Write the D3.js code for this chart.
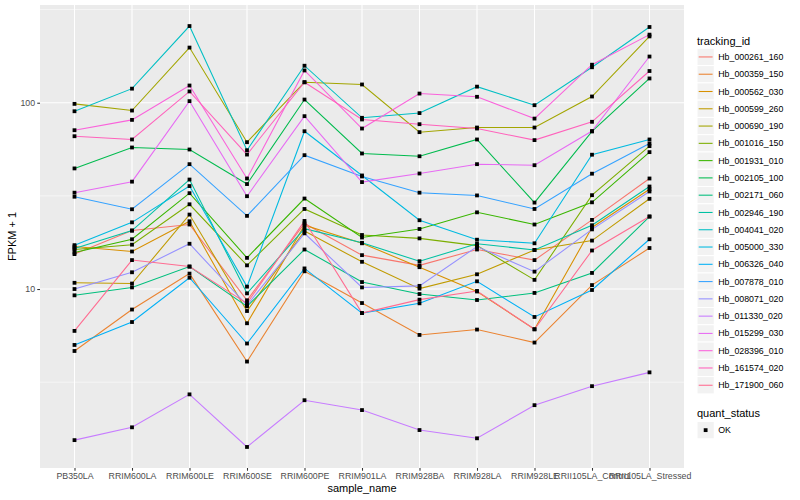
<!DOCTYPE html>
<html>
<head>
<meta charset="utf-8">
<script src="https://cdn.jsdelivr.net/npm/d3@7"></script>
<style>
  html, body { margin: 0; padding: 0; background: #ffffff; }
  text { font-family: "Liberation Sans", Arial, Helvetica, sans-serif; }
</style>
</head>
<body>
<svg id="chart" width="800" height="500"></svg>
<script>
// ---- data ----
const samples = ["PB350LA","RRIM600LA","RRIM600LE","RRIM600SE","RRIM600PE","RRIM901LA","RRIM928BA","RRIM928LA","RRIM928LE","RRII105LA_Control","RRII105LA_Stressed"];
const trackingIds = ["Hb_000261_160","Hb_000359_150","Hb_000562_030","Hb_000599_260","Hb_000690_190","Hb_001016_150","Hb_001931_010","Hb_002105_100","Hb_002171_060","Hb_002946_190","Hb_004041_020","Hb_005000_330","Hb_006326_040","Hb_007878_010","Hb_008071_020","Hb_011330_020","Hb_015299_030","Hb_028396_010","Hb_161574_020","Hb_171900_060"];
const seriesColors = ["#F8766D","#EA8331","#D89000","#C09B00","#A3A500","#7CAE00","#39B600","#00BB4E","#00BF7D","#00C1A3","#00BFC4","#00BAE0","#00B0F6","#35A2FF","#9590FF","#C77CFF","#E76BF3","#FA62DB","#FF62BC","#FF6C91"];
const quantStatus = ["OK"];
const yTicks = [10, 100];
const yMinor = [3.1623, 31.623, 316.23];

// FPKM + 1 per sample, one array per tracking_id
const hb_000261_160 = [15.4, 20.6, 22.2, 8.7, 22.5, 15.2, 13.4, 16.3, 14.3, 23.5, 39.2];
const hb_000359_150 = [4.65, 7.76, 12.1, 4.08, 12.45, 8.41, 5.67, 6.06, 5.16, 10.5, 16.6];
const hb_000562_030 = [16.9, 15.9, 23.1, 6.55, 22.0, 17.6, 13.1, 9.7, 6.08, 21.4, 34.3];
const hb_000599_260 = [10.8, 10.7, 25.1, 7.62, 20.5, 14.0, 10.05, 12.0, 16.2, 18.2, 30.5];
const hb_000690_190 = [98.6, 90.8, 197.7, 61.4, 128.8, 125.3, 69.5, 73.6, 73.6, 108, 227];
const hb_001016_150 = [16.3, 17.3, 28.5, 13.4, 26.9, 19.5, 18.7, 17.1, 11.2, 31.9, 58.5];
const hb_001931_010 = [15.7, 18.5, 32.7, 14.7, 30.6, 18.9, 21.0, 25.8, 22.2, 29.2, 54.3];
const hb_002105_100 = [44.4, 57.5, 56.1, 36.6, 104, 53.4, 51.6, 63.5, 29.1, 70.1, 135];
const hb_002171_060 = [9.25, 10.2, 13.2, 8.07, 16.3, 10.9, 9.4, 8.73, 9.53, 12.2, 24.5];
const hb_002946_190 = [16.5, 20.6, 38.7, 9.48, 21.1, 17.7, 14.1, 17.5, 16.2, 22.0, 35.5];
const hb_004041_020 = [90, 119, 258, 55.6, 158, 83, 88, 122, 97, 155, 255];
const hb_005000_330 = [17.2, 22.8, 35.7, 10.3, 70.3, 40.7, 23.4, 18.4, 17.6, 52.6, 63.5];
const hb_006326_040 = [5.01, 6.65, 11.5, 5.1, 12.9, 7.43, 8.38, 11.0, 7.08, 9.88, 18.5];
const hb_007878_010 = [31.3, 26.8, 46.8, 24.7, 52.3, 40.2, 32.9, 31.8, 26.9, 41.6, 60.4];
const hb_008071_020 = [10, 12.3, 17.5, 8.18, 19.9, 10.2, 10.4, 16.9, 12.4, 20.9, 33.4];
const hb_011330_020 = [1.545, 1.81, 2.72, 1.42, 2.53, 2.24, 1.75, 1.58, 2.38, 3.01, 3.57];
const hb_015299_030 = [32.9, 37.7, 102, 31.5, 84.7, 37.5, 41.7, 46.8, 46.2, 70.5, 177];
const hb_028396_010 = [71.2, 80.9, 123.7, 39.2, 149, 72.7, 112, 107.6, 82.2, 160, 232];
const hb_161574_020 = [66.1, 63.5, 115, 52.7, 128.8, 81.3, 76.7, 72.7, 63, 79, 148];
const hb_171900_060 = [5.96, 14.3, 13.2, 8.38, 23.2, 7.43, 8.77, 9.76, 6.08, 16.1, 24.5];

const seriesValues = [hb_000261_160, hb_000359_150, hb_000562_030, hb_000599_260, hb_000690_190, hb_001016_150, hb_001931_010, hb_002105_100, hb_002171_060, hb_002946_190, hb_004041_020, hb_005000_330, hb_006326_040, hb_007878_010, hb_008071_020, hb_011330_020, hb_015299_030, hb_028396_010, hb_161574_020, hb_171900_060];

// ---- layout ----
const svg = d3.select("#chart");
const P = {l: 40, t: 5, r: 684, b: 468};

svg.append("rect").attr("x",0).attr("y",0).attr("width",800).attr("height",500).attr("fill","#ffffff");

const x = d3.scalePoint().domain(samples).range([P.l, P.r]).padding(0.6);
const allVals = seriesValues.flat();
const lo = Math.log10(d3.min(allVals)), hi = Math.log10(d3.max(allVals));
const ex = (hi - lo) * 0.05;
const y = d3.scaleLog().domain([Math.pow(10, lo - ex), Math.pow(10, hi + ex)]).range([P.b, P.t]);

// panel
svg.append("rect").attr("x",P.l).attr("y",P.t).attr("width",P.r-P.l).attr("height",P.b-P.t).attr("fill","#EBEBEB");

const grid = svg.append("g");
grid.selectAll("line.minor").data(yMinor.filter(v => y(v) >= P.t && y(v) <= P.b)).enter().append("line")
  .attr("x1",P.l).attr("x2",P.r).attr("y1",d=>y(d)).attr("y2",d=>y(d))
  .attr("stroke","#ffffff").attr("stroke-width",0.55);
grid.selectAll("line.major").data(yTicks).enter().append("line")
  .attr("x1",P.l).attr("x2",P.r).attr("y1",d=>y(d)).attr("y2",d=>y(d))
  .attr("stroke","#ffffff").attr("stroke-width",1.07);
grid.selectAll("line.vx").data(samples).enter().append("line")
  .attr("x1",d=>x(d)).attr("x2",d=>x(d)).attr("y1",P.t).attr("y2",P.b)
  .attr("stroke","#ffffff").attr("stroke-width",1.07);

// lines
const line = d3.line().x((d,i)=>x(samples[i])).y(d=>y(d));
svg.append("g").selectAll("path").data(seriesValues).enter().append("path")
  .attr("d", d=>line(d)).attr("fill","none")
  .attr("stroke",(d,i)=>seriesColors[i]).attr("stroke-width",1.07);

// points
const pts = [];
seriesValues.forEach(s => s.forEach((v,i) => pts.push({s: samples[i], v})));
const ps = 3.8;
svg.append("g").selectAll("rect").data(pts).enter().append("rect")
  .attr("x",d=>x(d.s)-ps/2).attr("y",d=>y(d.v)-ps/2).attr("width",ps).attr("height",ps).attr("fill","#000000");

// axes
const yAxis = svg.append("g").attr("transform",`translate(${P.l},0)`)
  .call(d3.axisLeft(y).tickValues(yTicks).tickFormat(d3.format("d")).tickSize(2.74).tickPadding(2.2));
const xAxis = svg.append("g").attr("transform",`translate(0,${P.b})`)
  .call(d3.axisBottom(x).tickSize(2.74).tickPadding(2.2));
[yAxis, xAxis].forEach(a => {
  a.select(".domain").remove();
  a.selectAll(".tick line").attr("stroke","#333333").attr("stroke-width",1.07);
  a.selectAll(".tick text").attr("fill","#4D4D4D").style("font-size","8.8px")
    .style("font-family",'"Liberation Sans", Arial, Helvetica, sans-serif');
});

// axis titles
svg.append("text").attr("x",(P.l+P.r)/2).attr("y",492).attr("text-anchor","middle")
  .style("font-size","11px").attr("fill","#000").text("sample_name");
svg.append("text").attr("transform",`translate(16,${(P.t+P.b)/2}) rotate(-90)`).attr("text-anchor","middle")
  .style("font-size","11px").attr("fill","#000").text("FPKM + 1");

// legend: tracking_id
const L = {x: 697, y: 48.3, k: 17.28};
svg.append("text").attr("x",L.x).attr("y",44.5).style("font-size","11px").attr("fill","#000").text("tracking_id");
const lg = svg.append("g").selectAll("g").data(trackingIds).enter().append("g")
  .attr("transform",(d,i)=>`translate(${L.x},${L.y + i*L.k})`);
lg.append("rect").attr("width",L.k).attr("height",L.k).attr("fill","#F2F2F2").attr("stroke","#ffffff").attr("stroke-width",1);
lg.append("line").attr("x1",1.7).attr("x2",L.k-1.7).attr("y1",L.k/2).attr("y2",L.k/2)
  .attr("stroke",(d,i)=>seriesColors[i]).attr("stroke-width",1.07);
lg.append("text").attr("x",L.k+4).attr("y",L.k/2).attr("dy","0.35em")
  .style("font-size","8.8px").attr("fill","#000").text(d=>d);

// legend: quant_status
svg.append("text").attr("x",L.x).attr("y",417).style("font-size","11px").attr("fill","#000").text("quant_status");
const qg = svg.append("g").selectAll("g").data(quantStatus).enter().append("g")
  .attr("transform",(d,i)=>`translate(${L.x},${421.5 + i*L.k})`);
qg.append("rect").attr("width",L.k).attr("height",L.k).attr("fill","#F2F2F2").attr("stroke","#ffffff").attr("stroke-width",1);
qg.append("rect").attr("x",L.k/2-ps/2).attr("y",L.k/2-ps/2).attr("width",ps).attr("height",ps).attr("fill","#000");
qg.append("text").attr("x",L.k+4).attr("y",L.k/2).attr("dy","0.35em")
  .style("font-size","8.8px").attr("fill","#000").text(d=>d);
</script>
</body>
</html>
